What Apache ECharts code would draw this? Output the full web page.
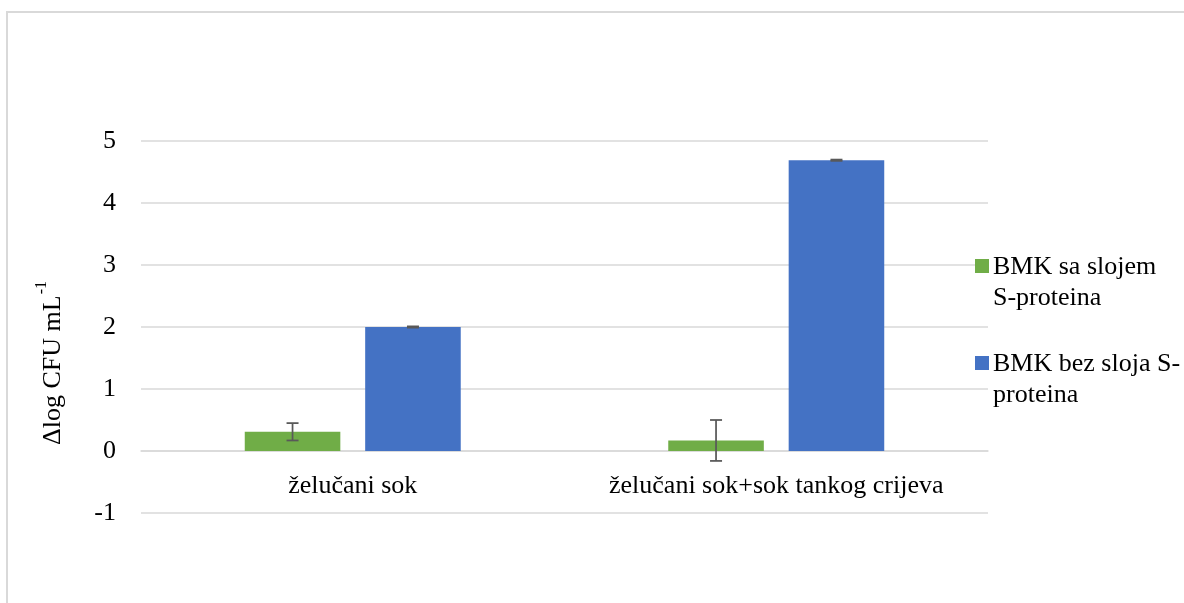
<!DOCTYPE html>
<html>
<head>
<meta charset="utf-8">
<script src="https://cdn.jsdelivr.net/npm/echarts@6/dist/echarts.min.js"></script>
<style>
html,body{margin:0;padding:0;background:#fff;}
#chart{width:1184px;height:603px;}
</style>
</head>
<body>
<div id="chart"></div>
<script>
const categories = ['želučani sok', 'želučani sok+sok tankog crijeva'];
const seriesNames = ['BMK sa slojem S-proteina', 'BMK bez sloja S-proteina'];
const legendLines = [['BMK sa slojem', 'S-proteina'], ['BMK bez sloja S-', 'proteina']];
const greenValues = [0.31, 0.17];
const greenErrors = [0.14, 0.33];
const blueValues = [2.0, 4.69];
const blueErrors = [0.01, 0.01];
const yTicks = [-1, 0, 1, 2, 3, 4, 5];

const FONT = '"Liberation Serif", "Times New Roman", serif';
const FS = 26;
const colors = ['#70ad47', '#4472c4'];
const CAT_GAP = 0.49, BAR_GAP = 0.26;

const chart = echarts.init(document.getElementById('chart'), null, {renderer: 'canvas'});

function errRender(seriesIdx, values, errors) {
  return function (params, api) {
    const i = api.value(0);
    const W = api.size([1, 0])[0];
    const bw = W * (1 - CAT_GAP) / (2 + BAR_GAP);
    const total = bw * 2 + bw * BAR_GAP;
    const off = -total / 2 + bw / 2 + seriesIdx * (bw + bw * BAR_GAP);
    const c = api.coord([i, values[i]]);
    const x = c[0] + off;
    const top = api.coord([i, values[i] + errors[i]])[1];
    const bot = api.coord([i, values[i] - errors[i]])[1];
    const cap = 6;
    const st = {stroke: '#595959', lineWidth: 1.75};
    return {
      type: 'group',
      children: [
        {type: 'line', shape: {x1: x, y1: top, x2: x, y2: bot}, style: st},
        {type: 'line', shape: {x1: x - cap, y1: top, x2: x + cap, y2: top}, style: st},
        {type: 'line', shape: {x1: x - cap, y1: bot, x2: x + cap, y2: bot}, style: st}
      ]
    };
  };
}

const legendGraphics = [];
const legendTops = [252, 349];
legendLines.forEach((lines, k) => {
  legendGraphics.push({
    type: 'rect', x: 975, y: legendTops[k] + 7, shape: {x: 0, y: 0, width: 14, height: 14},
    style: {fill: colors[k]}, z: 100
  });
  legendGraphics.push({
    type: 'text', x: 993, y: legendTops[k], z: 100,
    style: {text: lines.join('\n'), font: FS + 'px ' + FONT, fill: '#000', lineHeight: 31}
  });
});

const option = {
  animation: false,
  backgroundColor: '#fff',
  grid: {left: 141, right: 196, top: 141, bottom: 90},
  xAxis: {
    type: 'category',
    data: categories,
    offset: 0,
    axisLine: {show: true, onZero: false, lineStyle: {color: '#d9d9d9', width: 1.5}},
    axisTick: {show: false},
    axisLabel: {fontFamily: FONT, fontSize: FS, color: '#000', margin: 22, interval: 0}
  },
  yAxis: {
    type: 'value',
    min: yTicks[0], max: yTicks[yTicks.length - 1], interval: 1,
    axisLine: {show: false},
    axisTick: {show: false},
    axisLabel: {fontFamily: FONT, fontSize: FS, color: '#000', margin: 25},
    splitLine: {lineStyle: {color: '#d9d9d9', width: 1.5}}
  },
  series: [
    {
      name: seriesNames[0], type: 'bar', data: greenValues,
      itemStyle: {color: colors[0]}, barCategoryGap: (CAT_GAP * 100) + '%', barGap: (BAR_GAP * 100) + '%'
    },
    {
      name: seriesNames[1], type: 'bar', data: blueValues,
      itemStyle: {color: colors[1]}, barCategoryGap: (CAT_GAP * 100) + '%', barGap: (BAR_GAP * 100) + '%'
    },
    {
      type: 'custom', renderItem: errRender(0, greenValues, greenErrors),
      data: categories.map((c, i) => [i]), z: 10, silent: true
    },
    {
      type: 'custom', renderItem: errRender(1, blueValues, blueErrors),
      data: categories.map((c, i) => [i]), z: 10, silent: true
    }
  ],
  graphic: [
    {type: 'rect', x: 7, y: 12, shape: {x: 0, y: 0, width: 1300, height: 700},
     style: {fill: 'none', stroke: '#d9d9d9', lineWidth: 2}, z: -10},
    {type: 'text', x: 50, y: 363, rotation: Math.PI / 2, z: 100,
     style: {
       text: '{m|Δlog CFU mL}{s|-1}', align: 'center', verticalAlign: 'middle',
       rich: {
         m: {fontFamily: FONT, fontSize: FS, fill: '#000', verticalAlign: 'bottom', lineHeight: 32},
         s: {fontFamily: FONT, fontSize: 16, fill: '#000', verticalAlign: 'top', lineHeight: 32, padding: [0, 0, 0, 1]}
       }
     }}
  ].concat(legendGraphics)
};
chart.setOption(option);
// Place the category axis on the zero line, using the value axis scale
const yZero = chart.convertToPixel({yAxisIndex: 0}, 0);
const yMin = chart.convertToPixel({yAxisIndex: 0}, yTicks[0]);
chart.setOption({xAxis: {offset: yZero - yMin}});
</script>
</body>
</html>
